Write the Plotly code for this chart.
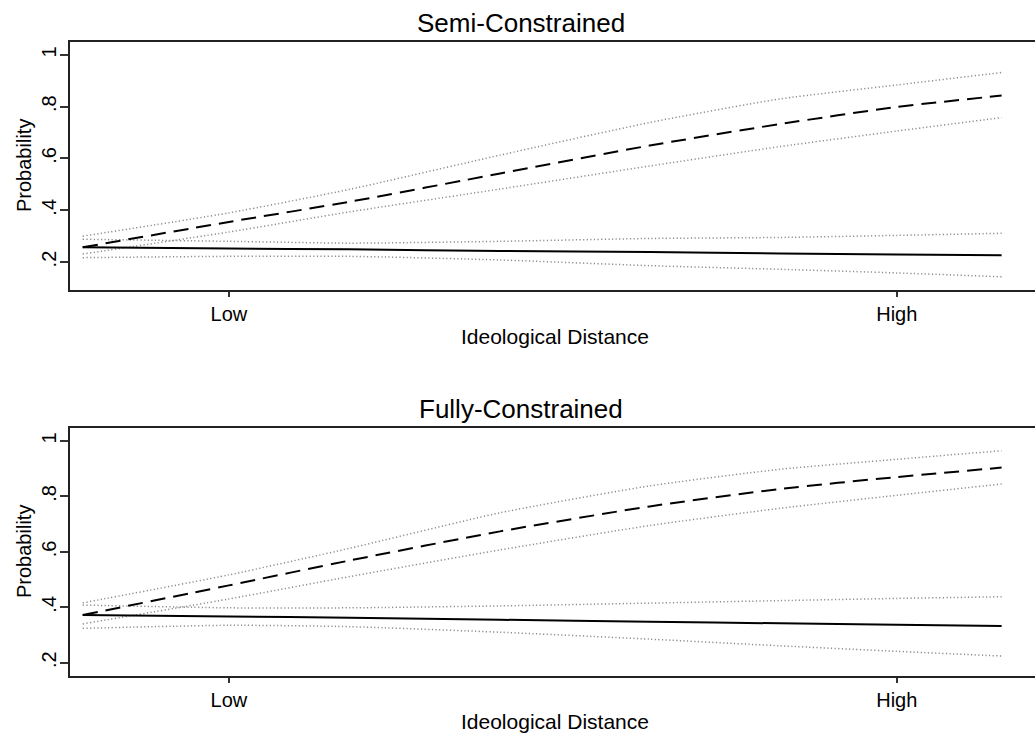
import plotly.graph_objects as go

W, H = 1035, 733

# x positions on the Ideological Distance scale (Low = 0, High = 1)
x_vals = [-0.219, 0.0, 0.181, 0.406, 0.630, 0.825, 1.0, 1.157]
x_ticks = [0.0, 1.0]
x_tick_labels = ["Low", "High"]
y_ticks = [0.2, 0.4, 0.6, 0.8, 1.0]
y_tick_labels = [".2", ".4", ".6", ".8", "1"]

panel_titles = ["Semi-Constrained", "Fully-Constrained"]

# Semi-Constrained panel
semi_dashed = [0.257, 0.355, 0.433, 0.542, 0.650, 0.733, 0.799, 0.843]
semi_dashed_hi = [0.300, 0.390, 0.481, 0.613, 0.739, 0.830, 0.884, 0.932]
semi_dashed_lo = [0.231, 0.316, 0.394, 0.482, 0.571, 0.646, 0.706, 0.758]
semi_solid = [0.257, 0.252, 0.249, 0.243, 0.239, 0.233, 0.229, 0.226]
semi_solid_hi = [0.288, 0.280, 0.273, 0.280, 0.291, 0.295, 0.303, 0.311]
semi_solid_lo = [0.217, 0.222, 0.222, 0.208, 0.186, 0.172, 0.158, 0.143]

# Fully-Constrained panel
full_dashed = [0.372, 0.479, 0.569, 0.674, 0.764, 0.827, 0.870, 0.904]
full_dashed_hi = [0.416, 0.517, 0.613, 0.741, 0.838, 0.898, 0.934, 0.965]
full_dashed_lo = [0.340, 0.430, 0.511, 0.607, 0.695, 0.757, 0.804, 0.845]
full_solid = [0.372, 0.367, 0.362, 0.355, 0.348, 0.342, 0.337, 0.332]
full_solid_hi = [0.408, 0.398, 0.398, 0.405, 0.415, 0.424, 0.432, 0.438]
full_solid_lo = [0.324, 0.335, 0.330, 0.310, 0.285, 0.261, 0.241, 0.224]

panels = [
    (semi_dashed, semi_dashed_hi, semi_dashed_lo, semi_solid, semi_solid_hi, semi_solid_lo),
    (full_dashed, full_dashed_hi, full_dashed_lo, full_solid, full_solid_hi, full_solid_lo),
]

FONT = "Liberation Sans, Arial, Helvetica, sans-serif"
fig = go.Figure()

dot_line = dict(color="#8c8c8c", width=1.5, dash="1.2px,2.4px")
for i, (d, dh, dl, s, sh, sl) in enumerate(panels):
    xa = "x" if i == 0 else "x2"
    ya = "y" if i == 0 else "y2"
    for series in (dh, dl, sh, sl):
        fig.add_trace(go.Scatter(x=x_vals, y=series, mode="lines", line=dict(**dot_line, shape="spline", smoothing=0.6),
                                 xaxis=xa, yaxis=ya, showlegend=False, hoverinfo="skip"))
    fig.add_trace(go.Scatter(x=x_vals, y=s, mode="lines",
                             line=dict(color="black", width=2, shape="spline", smoothing=0.6),
                             xaxis=xa, yaxis=ya, showlegend=False))
    fig.add_trace(go.Scatter(x=x_vals, y=d, mode="lines",
                             line=dict(color="black", width=2, dash="15px,8px", shape="spline", smoothing=0.6),
                             xaxis=xa, yaxis=ya, showlegend=False))

def px_x(p):
    return p / W

def px_y(p):
    return 1 - p / H

x_dom = [px_x(70), 1.0]
y_doms = [[px_y(290), px_y(42)], [px_y(676), px_y(428)]]
y_ranges = [[0.092, 1.050], [0.152, 1.047]]
x_range = [-0.238, 1.207]

common_x = dict(domain=x_dom, range=x_range, tickmode="array", tickvals=x_ticks, ticktext=x_tick_labels,
                ticks="outside", ticklen=5, tickwidth=1.5, tickcolor="#333",
                showline=True, linecolor="#222", linewidth=1.6, mirror=True,
                showgrid=False, zeroline=False, tickfont=dict(size=20, color="black", family=FONT),
                ticklabelstandoff=0)
common_y = dict(tickmode="array", tickvals=y_ticks, ticktext=y_tick_labels, tickangle=-90,
                ticks="outside", ticklen=8, tickwidth=1.5, tickcolor="#333",
                showline=True, linecolor="#222", linewidth=1.6, mirror=False,
                showgrid=False, zeroline=False, tickfont=dict(size=20, color="black", family=FONT),
                ticklabelstandoff=-4)

fig.update_layout(
    width=W, height=H,
    margin=dict(l=0, r=0, t=0, b=0),
    paper_bgcolor="white", plot_bgcolor="white",
    font=dict(family=FONT, color="black"),
    xaxis=dict(**common_x, anchor="y"),
    yaxis=dict(**common_y, domain=y_doms[0], range=y_ranges[0], anchor="x"),
    xaxis2=dict(**common_x, anchor="y2"),
    yaxis2=dict(**common_y, domain=y_doms[1], range=y_ranges[1], anchor="x2"),
)

annotations = []
title_y = [23, 409]
xlab_y = [337, 721]
panel_mid = [166, 552]
for i in range(2):
    annotations.append(dict(text=panel_titles[i], x=px_x(521), y=px_y(title_y[i]), xref="paper", yref="paper",
                            showarrow=False, xanchor="center", yanchor="middle",
                            font=dict(size=26, color="black", family=FONT)))
    annotations.append(dict(text="Ideological Distance", x=px_x(555), y=px_y(xlab_y[i]), xref="paper", yref="paper",
                            showarrow=False, xanchor="center", yanchor="middle",
                            font=dict(size=21, color="black", family=FONT)))
    annotations.append(dict(text="Probability", x=px_x(24), y=px_y(panel_mid[i]), xref="paper", yref="paper",
                            showarrow=False, xanchor="center", yanchor="middle", textangle=-90,
                            font=dict(size=20, color="black", family=FONT)))
fig.update_layout(annotations=annotations)

fig.write_html("out.html")
